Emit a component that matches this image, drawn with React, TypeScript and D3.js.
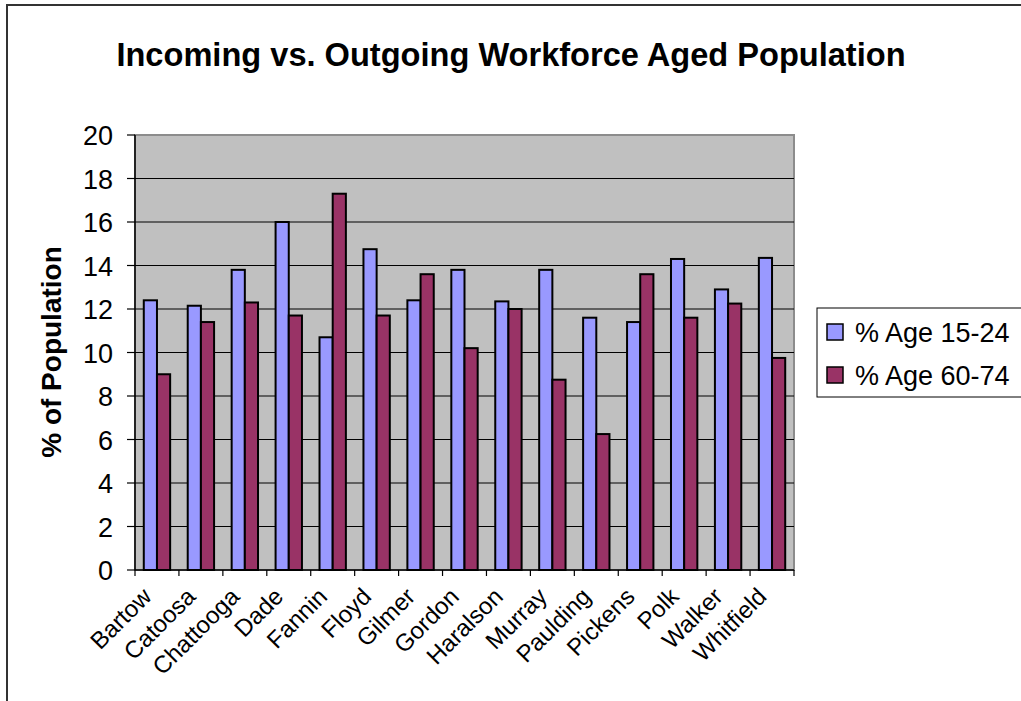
import React from "react";
import * as d3 from "d3";

const counties = [
  "Bartow", "Catoosa", "Chattooga", "Dade", "Fannin", "Floyd", "Gilmer", "Gordon",
  "Haralson", "Murray", "Paulding", "Pickens", "Polk", "Walker", "Whitfield",
];
const age15to24 = [12.4, 12.15, 13.8, 16.0, 10.7, 14.75, 12.4, 13.8, 12.35, 13.8, 11.6, 11.4, 14.3, 12.9, 14.35];
const age60to74 = [9.0, 11.4, 12.3, 11.7, 17.3, 11.7, 13.6, 10.2, 12.0, 8.75, 6.25, 13.6, 11.6, 12.25, 9.75];
const yTicks = [0, 2, 4, 6, 8, 10, 12, 14, 16, 18, 20];
const seriesNames = ["% Age 15-24", "% Age 60-74"];
const seriesColors = ["#9999FF", "#993366"];

const W = 1021;
const H = 701;
const FONT = "'Liberation Sans', Arial, sans-serif";

export default function App() {
  const plot = { left: 135, right: 794, top: 135, bottom: 570 };
  const x = d3.scaleBand<string>().domain(counties).range([plot.left, plot.right]).padding(0);
  const y = d3.scaleLinear().domain([0, 20]).range([plot.bottom, plot.top]);
  const bw = x.bandwidth() * 0.3;
  const series = [age15to24, age60to74];

  return (
    <div style={{ position: "absolute", left: 0, top: 0 }}>
      <svg width={W} height={H} style={{ display: "block", background: "#fff" }} fontFamily={FONT}>
        {/* chart frame */}
        <rect x={7} y={5} width={W + 20} height={H + 20} fill="#fff" stroke="#333" strokeWidth={2} />

        <text x={511} y={66} textAnchor="middle" fontSize={32.6} fontWeight="bold" fill="#000">
          Incoming vs. Outgoing Workforce Aged Population
        </text>

        {/* plot area */}
        <rect
          x={plot.left}
          y={plot.top}
          width={plot.right - plot.left}
          height={plot.bottom - plot.top}
          fill="#C0C0C0"
          stroke="#8c8c8c"
          strokeWidth={2}
        />
        {yTicks.filter((t) => t > 0 && t < 20).map((t) => (
          <line key={t} x1={plot.left} x2={plot.right} y1={y(t)} y2={y(t)} stroke="#000" strokeWidth={1.2} />
        ))}

        {/* bars */}
        {counties.map((c, i) => {
          const cx = (x(c) as number) + x.bandwidth() / 2;
          return series.map((vals, s) => (
            <rect
              key={c + s}
              x={cx - bw + s * bw}
              y={y(vals[i])}
              width={bw}
              height={y(0) - y(vals[i])}
              fill={seriesColors[s]}
              stroke="#000"
              strokeWidth={2}
            />
          ));
        })}

        {/* y axis */}
        <line x1={plot.left} x2={plot.left} y1={plot.top} y2={plot.bottom} stroke="#000" strokeWidth={1.5} />
        {yTicks.map((t) => (
          <g key={t}>
            <line x1={plot.left - 8} x2={plot.left} y1={y(t)} y2={y(t)} stroke="#000" strokeWidth={1.2} />
            <text x={113} y={y(t) + 10} textAnchor="end" fontSize={27} fill="#000">
              {t}
            </text>
          </g>
        ))}
        <text
          transform={`translate(61,352) rotate(-90)`}
          textAnchor="middle"
          fontSize={28}
          fontWeight="bold"
          fill="#000"
        >
          % of Population
        </text>

        {/* x axis */}
        <line x1={plot.left} x2={plot.right} y1={plot.bottom} y2={plot.bottom} stroke="#000" strokeWidth={1.5} />
        {[...counties.map((c) => x(c) as number), plot.right].map((px, i) => (
          <line key={i} x1={px} x2={px} y1={plot.bottom} y2={plot.bottom + 6} stroke="#000" strokeWidth={1.2} />
        ))}
        {counties.map((c) => {
          const cx = (x(c) as number) + x.bandwidth() / 2;
          return (
            <text
              key={c}
              transform={`translate(${cx - 4},${plot.bottom + 28}) rotate(-45)`}
              textAnchor="end"
              fontSize={24}
              fill="#000"
            >
              {c}
            </text>
          );
        })}

        {/* legend */}
        <rect x={817} y={308} width={220} height={89} fill="#fff" stroke="#000" strokeWidth={1} />
        {seriesNames.map((n, i) => (
          <g key={n} transform={`translate(827,${332 + i * 43})`}>
            <rect x={0} y={-8} width={16} height={16} fill={seriesColors[i]} stroke="#000" strokeWidth={1.5} />
            <text x={28} y={10} fontSize={27} fill="#000">
              {n}
            </text>
          </g>
        ))}
      </svg>
    </div>
  );
}
